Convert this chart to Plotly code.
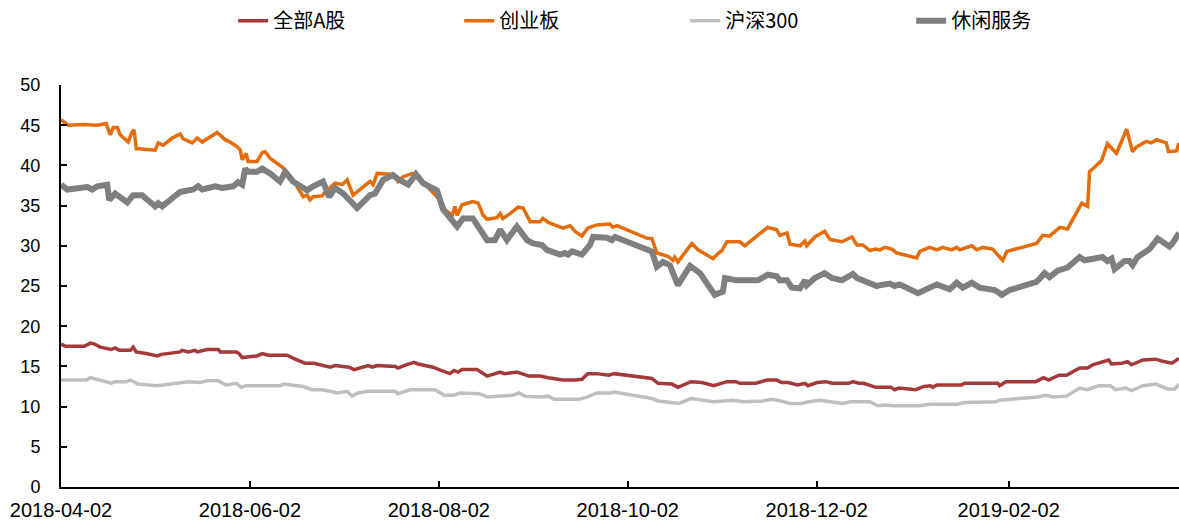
import pandas as pd
import plotly.graph_objects as go

start_date = "2018-04-02"
end_date = "2019-03-29"
tick_dates = ["2018-04-02", "2018-06-02", "2018-08-02", "2018-10-02", "2018-12-02", "2019-02-02"]
tick_labels = ["2018-04-02", "2018-06-02", "2018-08-02", "2018-10-02", "2018-12-02", "2019-02-02"]
series_names = ["全部A股", "创业板", "沪深300", "休闲服务"]

# day offsets from 2018-04-02, values (PE)
quanbu_days = [0, 1.4, 7.5, 9.5, 10.7, 12.7, 16.2, 17.5, 18.8, 22.4, 23.3, 24.3, 27.5, 31.1, 32.4, 38.5, 39.1, 41.1, 43.3, 44.0,
               47.2, 50.8, 51.4, 56.6, 57.5, 58.5, 63.3, 65.0, 66.9, 73.0, 75.6, 78.8, 81.7, 83.7, 86.9, 88.5, 93.0, 94.6, 99.2,
               100.5, 102.1, 107.9, 108.8, 111.4, 114.0, 115.3, 120.1, 122.7, 125.6, 126.9, 128.2, 129.5, 134.3, 137.6, 141.8,
               143.1, 147.2, 151.1, 154.7, 157.3, 162.1, 166.0, 168.2, 170.1, 173.0, 176.9, 178.6, 190.8, 192.8, 197.3, 199.2,
               203.4, 207.0, 210.8, 215.0, 217.9, 219.2, 224.4, 227.9, 231.1, 232.7, 234.7, 237.9, 240.2, 241.2, 244.1, 247.0,
               248.9, 254.4, 255.7, 257.6, 259.2, 263.1, 267.9, 269.2, 270.5, 276.0, 278.6, 280.8, 281.5, 282.8, 290.8, 291.8,
               302.5, 303.1, 305.1, 314.7, 317.3, 318.9, 322.2, 324.7, 328.9, 331.5, 333.1, 338.3, 339.2, 342.5, 344.4, 345.7,
               349.3, 353.5, 356.1, 358.7, 361.0]
quanbu_vals = [17.8, 17.5, 17.5, 17.9, 17.8, 17.4, 17.1, 17.3, 17.0, 17.0, 17.4, 16.8, 16.6, 16.3, 16.5, 16.8, 17.0, 16.8, 17.0, 16.8,
               17.1, 17.1, 16.8, 16.8, 16.6, 16.1, 16.3, 16.6, 16.4, 16.4, 15.9, 15.4, 15.4, 15.2, 14.9, 15.1, 14.9, 14.6, 15.1,
               14.9, 15.1, 15.0, 14.8, 15.2, 15.5, 15.3, 14.9, 14.5, 14.1, 14.5, 14.3, 14.6, 14.6, 13.8, 14.3,
               14.1, 14.3, 13.8, 13.8, 13.6, 13.3, 13.3, 13.4, 14.1, 14.1, 13.9, 14.1, 13.5, 12.9, 12.8, 12.4,
               13.1, 13.0, 12.6, 13.1, 13.1, 12.9, 12.9, 13.3, 13.3, 13.0, 13.0, 12.7, 12.9, 12.6, 13.0, 13.1,
               12.9, 12.9, 13.1, 12.9, 12.9, 12.4, 12.4, 12.1, 12.3, 12.1, 12.5, 12.6, 12.4, 12.7, 12.7, 12.9,
               12.9, 12.6, 13.1, 13.1, 13.6, 13.3, 13.9, 13.9, 14.8, 14.8, 15.2, 15.8, 15.3, 15.4, 15.6, 15.2,
               15.8, 15.9, 15.6, 15.4, 16.0]

cyb_days = [0, 2.4, 7.2, 11.7, 14.6, 15.9, 16.9, 18.2, 19.1, 21.7, 23.0, 23.6, 24.3, 30.4, 31.4, 33.0, 35.9, 38.5, 39.5, 42.4,
            44.0, 45.6, 50.4, 51.4, 53.0, 54.6, 56.9, 57.9, 58.5, 59.8, 60.4, 63.3, 65.0, 65.9, 67.5, 71.4, 74.6, 78.2, 79.5,
            80.4, 81.4, 84.3, 85.3, 88.5, 90.8, 92.4, 94.3, 99.8, 100.8, 102.1, 106.3, 107.9, 108.8, 110.5, 113.4, 116.9,
            120.1, 122.4, 124.0, 126.3, 127.2, 127.9, 129.5, 133.0, 134.7, 136.3, 137.6, 140.8, 141.8, 142.7, 145.0, 147.6,
            149.2, 151.5, 154.7, 155.6, 157.3, 158.9, 162.1, 164.4, 166.0, 168.2, 170.1, 173.0, 177.2, 178.2, 179.5, 189.5,
            190.8, 192.4, 196.0, 197.6, 198.2, 199.2, 203.7, 205.7, 210.5, 212.1, 213.4, 215.0, 219.2, 220.8, 225.7, 228.2,
            231.1, 232.1, 234.4, 235.4, 238.6, 240.2, 240.8, 243.4, 246.6, 248.3, 252.1, 255.4, 257.0, 258.9, 261.2, 262.8,
            264.4, 266.0, 268.3, 269.9, 276.3, 277.3, 280.5, 282.8, 284.7, 287.6, 289.2, 290.2, 294.1, 295.7, 297.6, 300.8,
            302.4, 304.1, 305.4, 315.0, 317.0, 319.2, 322.5, 325.0, 329.6, 331.5, 332.1, 336.0, 337.9, 340.8, 344.1, 346.0,
            347.3, 350.5, 352.1, 353.7, 356.9, 357.6, 360.2, 361.0]
cyb_vals = [45.7, 45.0, 45.1, 45.0, 45.2, 43.8, 44.7, 44.7, 43.8, 42.9, 44.2, 44.4, 42.1, 41.9, 42.8, 42.5, 43.4, 43.9, 43.3, 42.8,
            43.4, 42.9, 44.1, 43.8, 43.2, 42.9, 42.3, 41.9, 40.7, 41.5, 40.5, 40.5, 41.6, 41.7, 40.9, 39.8, 38.4, 36.1, 36.3,
            35.7, 36.1, 36.2, 36.7, 37.8, 37.6, 38.2, 36.3, 38.0, 37.6, 39.0, 38.9, 38.6, 38.0, 38.6, 39.0, 37.9,
            36.7, 35.7, 34.5, 33.8, 34.9, 33.8, 35.1, 35.5, 35.3, 33.8, 33.3, 33.5, 34.0, 33.4, 34.0, 34.8,
            34.7, 33.0, 33.0, 33.4, 32.9, 32.7, 32.2, 32.5, 31.8, 31.2, 32.2, 32.6, 32.7, 32.3, 32.5, 30.9,
            30.9, 29.1, 28.7, 28.2, 28.6, 28.0, 30.3, 29.5, 28.4, 29.0, 29.4, 30.5, 30.5, 30.0, 31.6, 32.3,
            32.0, 31.3, 31.6, 30.2, 30.0, 30.6, 30.0, 31.1, 31.8, 30.8, 30.5, 31.1, 30.1, 30.1, 29.4, 29.6,
            29.5, 29.8, 29.6, 29.1, 28.5, 29.3, 29.8, 29.5, 29.8, 29.5, 29.8, 29.5, 30.0, 29.5, 29.8, 29.6,
            28.9, 28.2, 29.3, 30.3, 31.3, 31.2, 32.3, 32.1, 35.3, 34.9, 39.2, 40.6, 42.7, 41.5, 44.5, 41.7,
            42.3, 43.0, 42.8, 43.2, 42.8, 41.7, 41.8, 42.8]

hs300_days = [0, 8.2, 9.5, 11.4, 16.2, 17.5, 21.1, 22.4, 24.9, 31.1, 38.5, 41.1, 44.6, 47.2, 50.8, 53.3, 56.6, 58.2, 59.5, 70.7,
              72.0, 78.2, 81.1, 84.3, 86.9, 89.2, 92.4, 94.0, 95.9, 99.2, 101.1, 107.9, 108.8, 112.7, 120.8, 123.7, 126.9,
              128.9, 135.0, 137.6, 141.1, 145.9, 147.9, 149.8, 154.7, 157.3, 159.2, 167.2, 170.1, 173.0, 177.6, 178.6, 190.8,
              192.8, 199.5, 203.4, 210.8, 216.9, 220.5, 226.6, 229.2, 231.4, 235.3, 238.9, 241.5, 245.0, 252.4, 255.0, 261.2,
              263.7, 266.0, 268.6, 277.3, 280.8, 289.6, 291.8, 301.8, 303.1, 315.4, 318.0, 320.2, 324.7, 328.9, 331.5, 335.0,
              338.9, 340.5, 343.8, 345.7, 349.3, 353.5, 357.3, 359.6, 361.0]
hs300_vals = [13.3, 13.3, 13.6, 13.4, 12.9, 13.1, 13.1, 13.3, 12.8, 12.6, 13.0, 13.1, 13.0, 13.2, 13.2, 12.7, 12.9, 12.4, 12.6, 12.6,
              12.8, 12.5, 12.1, 12.1, 11.9, 11.7, 11.9, 11.3, 11.7, 11.9, 11.9, 11.9, 11.6, 12.1, 12.1, 11.4, 11.4,
              11.7, 11.6, 11.2, 11.3, 11.4, 11.7, 11.3, 11.2, 11.3, 10.9, 10.9, 11.2, 11.7, 11.7, 11.8, 11.0,
              10.7, 10.4, 11.0, 10.6, 10.8, 10.6, 10.7, 10.9, 10.8, 10.4, 10.4, 10.6, 10.8, 10.4, 10.6, 10.6,
              10.1, 10.2, 10.1, 10.1, 10.3, 10.3, 10.5, 10.6, 10.8, 11.2, 11.4, 11.2, 11.3, 12.3, 12.1, 12.6,
              12.6, 12.1, 12.3, 12.0, 12.6, 12.8, 12.2, 12.2, 12.8]

xxfw_days = [0, 2.0, 8.5, 10.1, 11.7, 14.9, 15.6, 17.5, 21.4, 23.3, 26.2, 30.4, 31.4, 32.7, 35.2, 38.5, 42.7, 44.3, 45.6, 49.8,
             52.0, 55.6, 57.2, 58.5, 59.5, 60.4, 63.3, 65.0, 67.5, 70.7, 72.4, 74.9, 79.5, 81.4, 84.6, 86.6, 88.5, 91.1, 95.6,
             99.8, 101.4, 104.0, 107.2, 108.8, 112.1, 114.6, 116.9, 121.4, 123.4, 125.6, 127.9, 129.8, 133.0, 137.6, 140.1,
             141.8, 144.0, 147.2, 150.5, 152.4, 155.3, 156.9, 161.1, 162.7, 163.7, 165.0, 168.2, 170.8, 171.8, 176.3, 177.9,
             178.9, 189.2, 190.8, 192.4, 194.4, 196.6, 199.2, 203.1, 205.3, 206.3, 211.1, 212.8, 213.7, 214.4, 218.2, 225.0,
             226.3, 228.2, 231.1, 232.1, 234.4, 236.0, 238.6, 240.2, 240.8, 243.4, 246.6, 248.9, 252.1, 255.7, 257.0, 258.9,
             263.4, 264.4, 267.6, 269.2, 270.8, 276.7, 279.9, 282.8, 287.0, 289.2, 291.2, 294.1, 296.6, 301.5, 303.8, 306.3,
             315.0, 317.6, 319.2, 321.8, 325.0, 328.9, 330.5, 336.3, 337.9, 339.2, 340.2, 343.4, 345.0, 346.0, 347.6, 351.5,
             354.1, 357.9, 358.9, 361.0]
xxfw_vals = [37.6, 37.0, 37.3, 37.0, 37.4, 37.6, 35.7, 36.5, 35.4, 36.3, 36.3, 34.9, 35.3, 34.9, 35.7, 36.7, 37.0, 37.4, 37.0, 37.4,
             37.2, 37.4, 37.9, 37.6, 39.6, 39.2, 39.2, 39.6, 39.0, 38.0, 39.2, 38.0, 36.9, 37.4, 38.0, 36.1, 37.2, 36.5, 34.7,
             36.3, 36.5, 38.2, 38.8, 38.3, 37.6, 38.9, 37.8, 36.9, 34.5, 33.6, 32.4, 33.4, 33.4, 30.7, 30.7,
             32.0, 30.7, 32.4, 30.7, 30.3, 30.1, 29.5, 28.9, 29.1, 28.9, 29.3, 28.9, 30.1, 31.1, 31.0, 30.7,
             31.1, 29.4, 29.3, 27.4, 28.0, 27.6, 25.1, 27.5, 26.8, 26.6, 23.9, 24.3, 24.3, 26.0, 25.7, 25.7,
             26.0, 26.4, 26.2, 25.7, 25.7, 24.8, 24.7, 25.7, 25.1, 26.0, 26.6, 26.0, 25.7, 26.5, 26.0, 25.7,
             25.0, 25.1, 25.3, 25.0, 25.2, 24.1, 24.6, 25.2, 24.6, 25.4, 24.8, 25.4, 24.8, 24.5, 23.9, 24.5,
             25.5, 26.6, 26.1, 26.9, 27.3, 28.6, 28.2, 28.6, 28.1, 28.4, 27.1, 28.1, 28.1, 27.6, 28.6, 29.6,
             30.9, 29.9, 30.3, 31.6]

colors = ["#A5393A", "#E46C0A", "#BFBFBF", "#7F7F7F"]
widths = [3.5, 3.5, 3.5, 6]

base = pd.Timestamp(start_date)


def to_dates(days):
    return [base + pd.Timedelta(days=d) for d in days]


all_days = [quanbu_days, cyb_days, hs300_days, xxfw_days]
all_vals = [quanbu_vals, cyb_vals, hs300_vals, xxfw_vals]

fig = go.Figure()
for name, d, v, c, w in zip(series_names, all_days, all_vals, colors, widths):
    fig.add_trace(go.Scatter(x=to_dates(d), y=v, mode="lines", name=name,
                             line=dict(color=c, width=w, shape="linear")))

font_family = "Liberation Sans, Arial, Noto Sans CJK SC, sans-serif"
fig.update_layout(
    width=1179, height=521,
    margin=dict(l=61, r=0, t=85, b=34, autoexpand=False),
    paper_bgcolor="white", plot_bgcolor="white",
    font=dict(family=font_family, size=18, color="black"),
    showlegend=True,
    legend=dict(orientation="h", x=0.154, xanchor="left", y=1.16, yanchor="middle",
                entrywidth=181, entrywidthmode="pixels", itemwidth=30,
                font=dict(family="Noto Sans CJK SC, sans-serif", size=20, color="black"),
                bgcolor="rgba(0,0,0,0)"),
    xaxis=dict(type="date", range=[start_date, end_date],
               tickmode="array", tickvals=tick_dates, ticktext=tick_labels,
               ticks="inside", ticklen=6, tickwidth=2, tickcolor="black",
               showline=True, linecolor="black", linewidth=2,
               showgrid=False, zeroline=False, automargin=False,
               ticklabelstandoff=4,
               tickfont=dict(size=20, family=font_family)),
    yaxis=dict(range=[0, 50], dtick=5, tick0=0,
               ticks="inside", ticklen=6, tickwidth=2, tickcolor="black",
               showline=True, linecolor="black", linewidth=2,
               showgrid=False, zeroline=False, automargin=False,
               ticklabelstandoff=15,
               tickfont=dict(size=18, family=font_family)),
    hovermode=False,
)

fig.write_html("out.html", config={"displayModeBar": False},
               post_script="document.body.style.margin='0';document.body.style.overflow='hidden';")
